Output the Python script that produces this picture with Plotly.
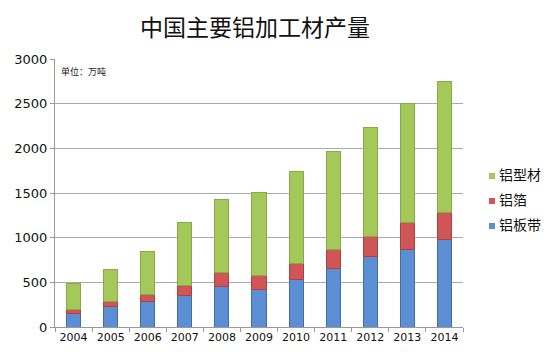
import plotly.graph_objects as go

years = ["2004", "2005", "2006", "2007", "2008", "2009", "2010", "2011", "2012", "2013", "2014"]
sheet_strip = [150, 230, 285, 350, 450, 415, 530, 660, 785, 870, 980]   # 铝板带
foil = [50, 55, 80, 115, 165, 160, 185, 210, 230, 295, 300]              # 铝箔
profile = [290, 355, 475, 700, 810, 935, 1025, 1095, 1215, 1335, 1470]   # 铝型材
y_ticks = [0, 500, 1000, 1500, 2000, 2500, 3000]

cjk = "Noto Sans CJK SC"
num_font = "DejaVu Sans"

series = [
    ("铝板带", sheet_strip, "#5b8ed3", "#41709e"),
    ("铝箔", foil, "#d05556", "#a84340"),
    ("铝型材", profile, "#a5c85a", "#86aa44"),
]

fig = go.Figure()
for name, vals, col, edge in series:
    fig.add_trace(go.Bar(x=years, y=vals, name=name, showlegend=False,
                         marker=dict(color=col, line=dict(color=edge, width=1))))

# page has an 8px body margin; plot area in window px: x 55..463, y 59..327
OFF = 8
W, H = 550 - OFF, 362 - OFF
L, R, T, B = 55, 463, 59, 327
def px_x(px):
    return (px - L) / (R - L)
def px_y(py):
    return (B - py) / (B - T)

legend_rows = [("铝型材", "#a5c85a", 176), ("铝箔", "#d05556", 201), ("铝板带", "#5b8ed3", 226)]
shapes = []
annotations = []
for name, col, py in legend_rows:
    shapes.append(dict(type="rect", xref="paper", yref="paper",
                       x0=px_x(489), x1=px_x(495), y0=px_y(py + 3), y1=px_y(py - 3),
                       fillcolor=col, line=dict(width=0)))
    annotations.append(dict(text=name, xref="paper", yref="paper", x=px_x(497), y=px_y(py - 2),
                            xanchor="left", yanchor="middle", showarrow=False,
                            font=dict(family=cjk, size=14, color="#111111")))

annotations.append(dict(text="单位：万吨", xref="paper", yref="paper", x=px_x(59), y=px_y(71),
                        xanchor="left", yanchor="middle", showarrow=False,
                        font=dict(family=cjk, size=9, color="#222222")))

# title as an annotation so its position is exact
annotations.append(dict(text="中国主要铝加工材产量", xref="paper", yref="paper",
                        x=px_x(255), y=px_y(26), xanchor="center", yanchor="middle",
                        showarrow=False, font=dict(family=cjk, size=23, color="#111111")))

fig.update_layout(
    barmode="stack",
    bargap=0.62,
    width=W, height=H,
    margin=dict(l=L - OFF, r=W - (R - OFF), t=T - OFF, b=H - (B - OFF), autoexpand=False),
    paper_bgcolor="white", plot_bgcolor="white",
    showlegend=False,
    xaxis=dict(showline=True, linecolor="#999999", linewidth=1, ticks="outside",
               tickson="boundaries", ticklen=4, tickcolor="#999999", tickangle=0,
               tickfont=dict(family=num_font, size=11, color="#111111")),
    yaxis=dict(range=[0, 3000], tickvals=y_ticks, showline=True, linecolor="#999999",
               linewidth=1, gridcolor="#aaaaaa", gridwidth=1, ticks="outside", ticklen=4,
               tickcolor="#999999", tickfont=dict(family=num_font, size=13, color="#111111"),
               zeroline=False),
    shapes=shapes,
    annotations=annotations,
)

fig.write_html("out.html")
